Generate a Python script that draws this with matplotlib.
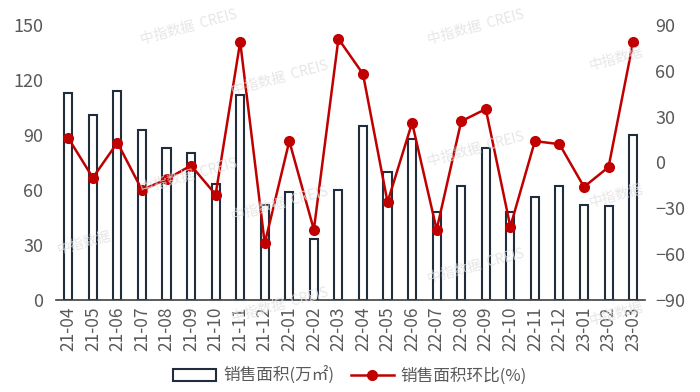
import numpy as np
import matplotlib
matplotlib.use("Agg")
import matplotlib.pyplot as plt

plt.rcParams['font.family'] = ['Noto Sans CJK SC', 'DejaVu Sans']

months = ["21-04", "21-05", "21-06", "21-07", "21-08", "21-09", "21-10", "21-11", "21-12",
          "22-01", "22-02", "22-03", "22-04", "22-05", "22-06", "22-07", "22-08", "22-09",
          "22-10", "22-11", "22-12", "23-01", "23-02", "23-03"]
# 销售面积 (万㎡)
area = [113, 101, 114, 93, 83, 80, 63, 112, 52, 59, 33, 60, 95, 70, 88, 48, 62, 83,
        48, 56, 62, 52, 51, 90]
# 环比 (%)
mom = [16, -10, 13, -18, -11, -2, -21, 79, -53, 14, -44, 81, 58, -26, 26, -44, 27, 35,
       -42, 14, 12, -16, -3, 79]

bar_color = "#1f2d3d"
line_color = "#c00000"
tick_color = "#595959"

fig = plt.figure(figsize=(7, 3.92), dpi=100)
ax = fig.add_axes([0.08, 0.235, 0.842, 0.701])
x = np.arange(len(months))

ax.bar(x, area, width=0.33, color="white", edgecolor=bar_color, linewidth=1.5,
       label="销售面积(万㎡)", zorder=2)
ax.set_ylim(0, 150)
ax.set_yticks(np.arange(0, 151, 30))
ax.set_xlim(-0.5, len(months) - 0.5)
ax.set_xticks(x)
ax.set_xticklabels(months, rotation=90)

ax2 = ax.twinx()
ax2.plot(x, mom, color=line_color, linewidth=1.8, marker="o", markersize=7,
         label="销售面积环比(%)", zorder=3)
ax2.set_ylim(-90, 90)
ax2.set_yticks(np.arange(-90, 91, 30))

for a in (ax, ax2):
    for s in ("top", "left", "right", "bottom"):
        a.spines[s].set_visible(False)
    a.tick_params(length=0, labelsize=13, colors=tick_color)
ax.spines["bottom"].set_visible(True)
ax.spines["bottom"].set_color("#404040")
ax.spines["bottom"].set_linewidth(1.2)
ax.tick_params(axis="x", labelsize=12.5, pad=5)
ax.tick_params(axis="y", pad=9)
ax2.tick_params(axis="y", pad=7)

# watermarks
marks = [(0.27, 0.93, "中指数据  CREIS"), (0.68, 0.93, "中指数据  CREIS"),
         (0.4, 0.80, "中指数据  CREIS"), (0.27, 0.55, "中指数据  CREIS"),
         (0.68, 0.62, "中指数据  CREIS"), (0.4, 0.48, "中指数据  CREIS"),
         (0.88, 0.85, "中指数据"), (0.88, 0.5, "中指数据"), (0.88, 0.2, "中指数据"),
         (0.4, 0.22, "中指数据  CREIS"), (0.68, 0.32, "中指数据  CREIS"),
         (0.12, 0.38, "中指数据")]
for mx, my, t in marks:
    fig.text(mx, my, t, rotation=15, fontsize=10, color="#e0e0e0", alpha=0.8,
             ha="center", va="center", zorder=0)

h1, l1 = ax.get_legend_handles_labels()
h2, l2 = ax2.get_legend_handles_labels()
fig.legend(h1 + h2, l1 + l2, loc="center", bbox_to_anchor=(0.5, 0.042), ncol=2,
           frameon=False, fontsize=12, labelcolor=tick_color, handlelength=2.6,
           columnspacing=1.0, handletextpad=0.4)

fig.savefig("out.png", dpi=100)
